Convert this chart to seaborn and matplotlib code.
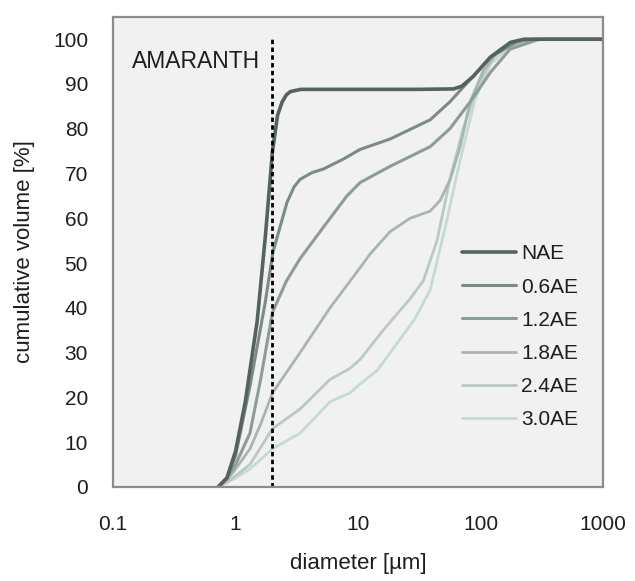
import numpy as np
import pandas as pd
import matplotlib
matplotlib.use("Agg")
import matplotlib.pyplot as plt
import seaborn as sns

# particle size distributions (diameter in um, cumulative volume in %)
nae_x = [0.72, 0.85, 1.0, 1.2, 1.5, 1.75, 2.0, 2.2, 2.4, 2.6, 2.8, 3.4, 5, 10, 30, 60, 70, 87, 120, 175, 225, 300, 1000]
nae_y = [0, 2, 8, 19, 37, 56, 75, 83, 86, 87.6, 88.3, 88.8, 88.8, 88.8, 88.8, 88.9, 89.5, 91.7, 96, 99.3, 100, 100, 100]

ae06_x = [0.72, 0.85, 1.0, 1.31, 1.74, 2.02, 2.63, 3.0, 3.36, 4.2, 5.2, 7.55, 10.4, 18.2, 38.7, 56, 82, 120, 199, 260, 1000]
ae06_y = [0, 2, 7, 22.5, 41, 52.5, 63.6, 67, 68.7, 70.2, 71, 73.2, 75.4, 77.7, 82, 86, 91, 96, 99.5, 100, 100]

ae12_x = [0.72, 0.85, 1.0, 1.31, 1.6, 2.0, 2.6, 3.36, 5.2, 8.1, 10.4, 18.2, 38.7, 56, 82, 120, 174, 300, 1000]
ae12_y = [0, 2, 5, 12, 24, 39, 46, 51, 58, 65, 68, 71.6, 76, 80, 86, 92.6, 97.8, 100, 100]

ae18_x = [0.72, 0.85, 1.0, 1.31, 1.6, 2.0, 3.36, 5.9, 10.4, 12.5, 18.2, 26.5, 38.7, 46.7, 56.4, 68, 82, 105, 144, 250, 1000]
ae18_y = [0, 1.5, 4, 8.5, 14, 21, 30, 40, 49, 52, 57, 60, 61.6, 64, 68.7, 76, 86, 93, 97.8, 100, 100]

ae24_x = [0.72, 0.85, 1.0, 1.31, 2.0, 3.36, 5.9, 8.6, 10.4, 16, 26.5, 34, 44, 56.4, 72, 93.5, 126, 184, 280, 1000]
ae24_y = [0, 1, 2.5, 5, 13, 17.4, 24, 26.5, 28.5, 35, 42, 46, 55, 69, 80, 89.5, 96, 99.3, 100, 100]

ae30_x = [0.72, 0.85, 1.0, 1.31, 2.0, 3.36, 5.9, 8.6, 10.4, 14.3, 22, 29, 38.7, 51, 68, 90, 120, 174, 254, 1000]
ae30_y = [0, 1, 2, 4, 8.5, 12, 19, 21, 23, 26, 33, 37.5, 44, 57.6, 73, 86.6, 94.4, 98.4, 100, 100]

labels = ["NAE", "0.6AE", "1.2AE", "1.8AE", "2.4AE", "3.0AE"]
colors = ["#56625d", "#7a8c85", "#8d9d96", "#a8b6af", "#bac9c1", "#c6dbd0"]
widths = [2.6, 2.2, 2.2, 2.0, 2.0, 2.0]
series = [(nae_x, nae_y), (ae06_x, ae06_y), (ae12_x, ae12_y),
          (ae18_x, ae18_y), (ae24_x, ae24_y), (ae30_x, ae30_y)]

xticks = [0.1, 1, 10, 100, 1000]
xtick_labels = ["0.1", "1", "10", "100", "1000"]
yticks = [0, 10, 20, 30, 40, 50, 60, 70, 80, 90, 100]

sns.set_style("white")
plt.rcParams["font.family"] = ["Liberation Sans", "DejaVu Sans"]
txt = "#1e1e1e"

fig = plt.figure(figsize=(6.35, 5.81), dpi=100)
ax = fig.add_axes([0.178, 0.162, 0.772, 0.809])
ax.set_facecolor("#f1f1f1")

# lightest first so NAE sits on top
for (xs, ys), lab, c, w in reversed(list(zip(series, labels, colors, widths))):
    sns.lineplot(x=xs, y=ys, ax=ax, color=c, linewidth=w, label=lab, sort=False)

ax.vlines(2.0, 0, 100, colors="black", linestyles=(0, (1.6, 1.2)), linewidth=2.0)
ax.text(0.143, 95, "AMARANTH", fontsize=16.5, va="center", ha="left", color=txt)

ax.set_xscale("log")
ax.set_xlim(0.1, 1000)
ax.set_ylim(0, 105)
ax.set_xticks(xticks)
ax.set_xticklabels(xtick_labels)
ax.set_yticks(yticks)

ax.tick_params(axis="both", direction="in", length=3, color="#9a9a9a", labelsize=15,
               labelcolor=txt)
ax.tick_params(axis="x", which="minor", direction="in", length=3, color="#9a9a9a")
ax.tick_params(axis="x", pad=20)
ax.tick_params(axis="y", pad=18)

for s in ax.spines.values():
    s.set_color("#8c8c8c")
    s.set_linewidth(1.6)

ax.set_xlabel("diameter [µm]", fontsize=16, color=txt)
ax.set_ylabel("cumulative volume [%]", fontsize=16, color=txt)
ax.xaxis.set_label_coords(0.5, -0.14)
ax.yaxis.set_label_coords(-0.16, 0.5)

h, l = ax.get_legend_handles_labels()
order = [l.index(n) for n in labels]
ax.legend([h[i] for i in order], [l[i] for i in order], loc="upper left",
          bbox_to_anchor=(0.712, 0.516), frameon=False, fontsize=15,
          handlelength=2.6, handletextpad=0.25, labelspacing=0.68,
          borderpad=0, borderaxespad=0, labelcolor=txt)

fig.savefig("out.png", dpi=100, facecolor="white")
